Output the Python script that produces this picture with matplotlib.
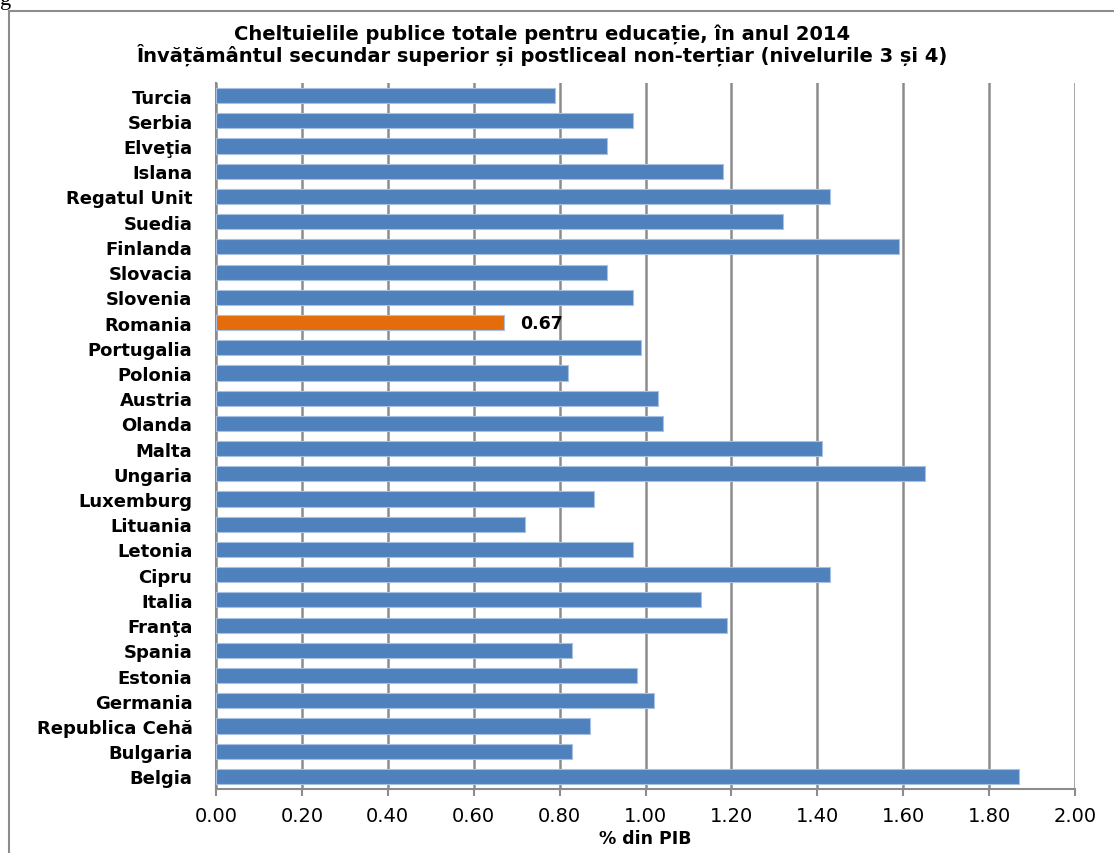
import matplotlib.pyplot as plt
from matplotlib.patches import Rectangle

plt.rcParams.update({
    'font.family': ['DejaVu Sans'],
})

# data, top to bottom as in the chart
countries = ["Turcia", "Serbia", "Elveţia", "Islana", "Regatul Unit", "Suedia",
             "Finlanda", "Slovacia", "Slovenia", "Romania", "Portugalia", "Polonia",
             "Austria", "Olanda", "Malta", "Ungaria", "Luxemburg", "Lituania",
             "Letonia", "Cipru", "Italia", "Franţa", "Spania", "Estonia",
             "Germania", "Republica Cehă", "Bulgaria", "Belgia"]
values = [0.79, 0.97, 0.91, 1.18, 1.43, 1.32,
          1.59, 0.91, 0.97, 0.67, 0.99, 0.82,
          1.03, 1.04, 1.41, 1.65, 0.88, 0.72,
          0.97, 1.43, 1.13, 1.19, 0.83, 0.98,
          1.02, 0.87, 0.83, 1.87]
highlight = "Romania"
xticks = [0.0, 0.2, 0.4, 0.6, 0.8, 1.0, 1.2, 1.4, 1.6, 1.8, 2.0]

title = ("Cheltuielile publice totale pentru educație, în anul 2014\n"
         "Învățământul secundar superior și postliceal non-terțiar (nivelurile 3 și 4)")

BLUE = "#4F81BD"
ORANGE = "#E46C0A"
GRID = "#8C8C8C"

fig = plt.figure(figsize=(11.14, 8.54), dpi=100)
ax = fig.add_axes([216 / 1114, 64 / 854, 859 / 1114, 706 / 854])

n = len(countries)
ypos = [n - 1 - i for i in range(n)]
colors = [ORANGE if c == highlight else BLUE for c in countries]
ax.barh(ypos, values, height=0.6, color=colors, edgecolor="#A9C1E0",
        linewidth=0.8, zorder=3)

# data label for Romania
for y, v, c in zip(ypos, values, countries):
    if c == highlight:
        ax.text(v + 0.038, y, f"{v:.2f}", va="center", ha="left",
                fontsize=12.5, fontweight="bold", color="black")

ax.set_xlim(0, 2.0)
ax.set_ylim(-0.5, n - 0.5)
ax.set_xticks(xticks)
ax.set_xticklabels([f"{t:.2f}" for t in xticks], fontsize=14)
ax.set_yticks(ypos)
ax.set_yticklabels(countries, fontsize=13, fontweight="bold")

ax.grid(axis="x", color=GRID, linewidth=1.8, zorder=0)
ax.set_axisbelow(True)
for s in ["top", "right"]:
    ax.spines[s].set_visible(False)
for s in ["left", "bottom"]:
    ax.spines[s].set_color(GRID)
    ax.spines[s].set_linewidth(1.5)
ax.tick_params(axis="x", length=5, width=1.5, color=GRID, pad=7)
ax.tick_params(axis="y", length=0, pad=17)

ax.set_xlabel("% din PIB", fontsize=12.5, fontweight="bold", labelpad=3)

fig.text(542 / 1114, 1 - 45 / 854, title, ha="center", va="center",
         fontsize=14, fontweight="bold", linespacing=1.0)

# outer frame of the pasted chart
fig.patches.append(Rectangle((9 / 1114, -0.2), 1.2, 1 - 12 / 854 + 0.2,
                             transform=fig.transFigure, fill=False,
                             edgecolor="#8C8C8C", linewidth=1.5))
# leftover glyph of the caption above
fig.text(0.0, 1.0, "g", family="Liberation Serif", fontsize=16,
         ha="left", va="center")

fig.savefig("out.png", dpi=100)
